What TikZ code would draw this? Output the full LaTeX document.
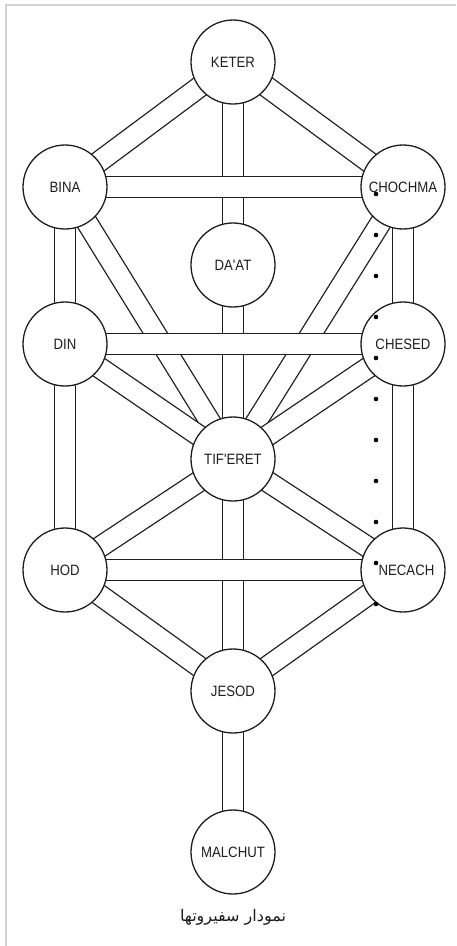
\documentclass[tikz,border=0pt]{standalone}
\usepackage{fontspec}
\usepackage{tikz}
\usetikzlibrary{backgrounds}
\newfontfamily\sefirafont[FakeStretch=0.88,Ligatures=TeXOff]{Liberation Sans}
\newfontfamily\arabicfont[Script=Arabic]{DejaVu Sans}
\TeXXeTstate=1
\definecolor{framegray}{HTML}{D4D4D4}
\definecolor{ink}{HTML}{1E1E1E}

\begin{document}
\begin{tikzpicture}[x=1pt,y=-1pt,
	sefira/.style={draw=ink,circle,fill=white,line width=1.3pt,minimum size=84pt,inner sep=0pt,text=ink,font=\sefirafont\fontsize{15}{17}\selectfont},
	channel/.style={draw=ink,line width=1.3pt,double=white,double distance=19.5pt}]
	\useasboundingbox (0,0) rectangle (456,946);
	\draw[framegray,line width=1.5pt] (6,946) -- (6,5) -- (456,5);
	\draw (233,62) node(keter) [sefira] {KETER};
	\draw (65,187) node(bina) [sefira] {BINA};
	\draw (403,187) node(chochma) [sefira] {CHOCHMA};
	\draw (233,265) node(daat) [sefira] {DA'AT};
	\draw (65,344) node(din) [sefira] {DIN};
	\draw (403,344) node(chesed) [sefira] {CHESED};
	\draw (233,459) node(tiferet) [sefira] {TIF'ERET};
	\draw (65,570) node(hod) [sefira] {HOD};
	\draw (403,570) node(necach) [sefira] {\hspace*{7pt}NECACH};
	\draw (233,691) node(jesod) [sefira] {JESOD};
	\draw (233,852) node(malchut) [sefira] {MALCHUT};
	\begin{pgfonlayer}{background}
		\path[channel] (keter.center) -- (bina.center);
		\path[channel] (keter.center) -- (chochma.center);
		\path[channel] (keter.center) -- (tiferet.center);
		\path[channel] (bina.center) -- (din.center);
		\path[channel] (chochma.center) -- (chesed.center);
		\path[channel] (bina.center) -- (tiferet.center);
		\path[channel] (chochma.center) -- (tiferet.center);
		\path[channel] (din.center) -- (tiferet.center);
		\path[channel] (chesed.center) -- (tiferet.center);
		\path[channel] (din.center) -- (hod.center);
		\path[channel] (chesed.center) -- (necach.center);
		\path[channel] (tiferet.center) -- (hod.center);
		\path[channel] (tiferet.center) -- (necach.center);
		\path[channel] (tiferet.center) -- (jesod.center);
		\path[channel] (hod.center) -- (jesod.center);
		\path[channel] (necach.center) -- (jesod.center);
		\path[channel] (jesod.center) -- (malchut.center);
		\path[channel] (bina.center) -- (chochma.center);
		\path[channel] (din.center) -- (chesed.center);
		\path[channel] (hod.center) -- (necach.center);
	\end{pgfonlayer}
	\foreach \y in {194,235,...,604}
		\fill[black] (376,\y) circle (2.3pt);
	\draw (233,917) node(caption) [text=ink] {\arabicfont\fontsize{16}{18}\selectfont\beginR نمودار سفیروتها\endR};
\end{tikzpicture}
\end{document}
